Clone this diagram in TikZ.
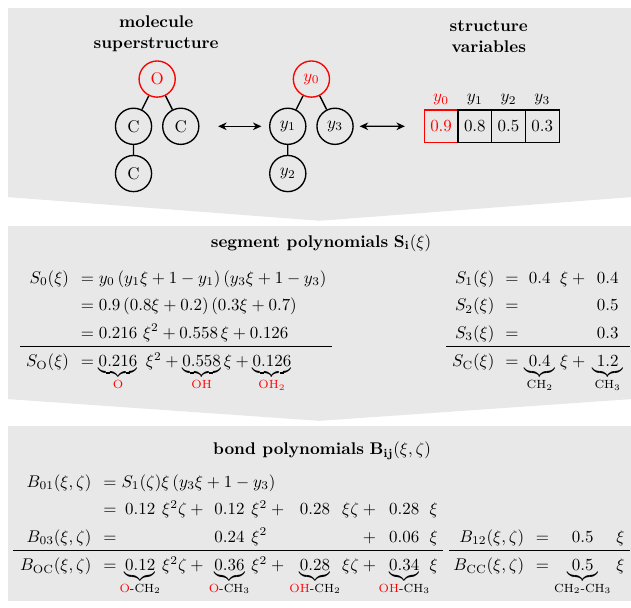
\documentclass[tikz,border=0pt]{standalone}
\usepackage{amsmath}
\usepackage{amssymb}
\usepackage{mathtools}
\usetikzlibrary{
  arrows.meta,
  positioning,  % Function "of" (e.g. [below left=of o])
}
\newcommand{\rd}[1]{\textcolor{red}{#1}}
\newcommand{\bnd}[2]{\mathclap{\mathrm{#1}\text{-}\mathrm{#2}}}
\renewcommand{\arraystretch}{1.35}
\setlength{\arraycolsep}{3.5pt}
\setlength{\arrayrulewidth}{0.6pt}
\def\myvdist{0.98cm}
\def\myhdist{0.49cm}
\def\mycell{0.70cm}
\colorlet{panelgray}{black!9}
\tikzset{
  >={Stealth[length=5pt,width=4.5pt]},
  panel/.style={
    fill=panelgray
  },
  title/.style={
    font=\bfseries,
    align=center
  },
  my atom/.style={
    draw,
    thick,
    circle,
    minimum size=0.75cm,
    inner sep=0mm
  },
  my root/.style={
    my atom,
    draw=red,
    text=red
  },
  my cell/.style={
    draw,
    thick,
    rectangle,
    minimum width=\mycell,
    minimum height=0.68cm,
    inner sep=0mm
  },
  eqs/.style={
    inner sep=0mm
  },
  tree/.style={
    on grid,
    node distance=\myvdist and \myhdist
  },
  bond/.style={
    thick
  },
  link/.style={
    thick,
    <->
  }
}

\begin{document}
\begin{tikzpicture}
\useasboundingbox (0,0) rectangle (13.09,-12.61);
% panels
\fill[panel] (0.17,-0.17) -- (13.09,-0.17) -- (13.09,-4.09) -- (6.63,-4.58) -- (0.17,-4.09) -- cycle;
\fill[panel] (0.17,-4.69) -- (13.09,-4.69) -- (13.09,-8.28) -- (6.63,-8.73) -- (0.17,-8.28) -- cycle;
\fill[panel] (0.17,-8.84) rectangle (13.09,-12.47);

% superstructure and its variables
\node[title] (tmol) at (3.24,-0.70) {molecule\\superstructure};
\node[title] (tvar) at (10.14,-0.76) {structure\\variables};
\begin{scope}[tree]
\node[my root] (o) at (3.26,-1.64) {O};
\node[my atom] (c1) [below left=of o] {C};
\node[my atom] (c2) [below right=of o] {C};
\node[my atom] (c3) [below=of c1] {C};
\node[my root] (y0) at (6.46,-1.64) {$y_0$};
\node[my atom] (y1) [below left=of y0] {$y_1$};
\node[my atom] (y3) [below right=of y0] {$y_3$};
\node[my atom] (y2) [below=of y1] {$y_2$};
\end{scope}
\draw[bond] (o) -- (c1) (o) -- (c2) (c1) -- (c3);
\draw[bond] (y0) -- (y1) (y0) -- (y3) (y1) -- (y2);

\begin{scope}[on grid]
\node[my cell,draw=red,text=red] (v0) at (9.15,-2.62) {$0.9$};
\node[my cell] (v1) [right=\mycell of v0] {$0.8$};
\node[my cell] (v2) [right=\mycell of v1] {$0.5$};
\node[my cell] (v3) [right=\mycell of v2] {$0.3$};
\end{scope}
\node[text=red] (l0) [above=-1pt of v0] {$y_0$};
\node (l1) [above=-1pt of v1] {$y_1$};
\node (l2) [above=-1pt of v2] {$y_2$};
\node (l3) [above=-1pt of v3] {$y_3$};

\draw[link,shorten <=11pt,shorten >=4.5pt] (c2) -- (y1);
\draw[link,shorten <=3.5pt,shorten >=11pt] (y3) -- (v0);

% segment polynomials
\node (tseg) at (6.66,-5.04) {\textbf{segment polynomials} $\mathbf{S_i}(\xi)$};
\node[eqs,anchor=north west] (segl) at (0.41,-5.47) {$\begin{array}{rl}
S_0(\xi) & = y_0\,(y_1\xi+1-y_1)\,(y_3\xi+1-y_3)\\
 & = 0.9\,(0.8\xi+0.2)\,(0.3\xi+0.7)\\
 & = 0.216\ \xi^2+0.558\,\xi+0.126\\ \hline
S_\mathrm{O}(\xi) & = \underbrace{0.216}_{\rd{\mathrm{O}}}\ \xi^2+\underbrace{0.558}_{\rd{\mathrm{OH}}}\xi+\underbrace{0.126}_{\rd{\mathrm{OH_2}}}
\end{array}$};
\node[eqs,anchor=north east] (segr) at (13.07,-5.47) {$\begin{array}{@{\hspace{3.5pt}}r@{\hspace{6.5pt}}c@{\hspace{3.5pt}}c@{\hspace{3pt}}c@{\hspace{2pt}}c@{\hspace{4pt}}}
S_1(\xi) & = & 0.4 & \xi+{} & 0.4\\
S_2(\xi) & = & & & 0.5\\
S_3(\xi) & = & & & 0.3\\ \hline
S_\mathrm{C}(\xi) & = & \underbrace{0.4}_{\mathrm{CH_2}} & \xi+{} & \underbrace{1.2}_{\mathrm{CH_3}}
\end{array}$};

% bond polynomials
\node (tbond) at (6.68,-9.35) {\textbf{bond polynomials} $\mathbf{B_{ij}}(\xi,\zeta)$};
\node[eqs,anchor=north west] (bondl) at (0.27,-9.70) {$\begin{array}{@{\hspace{4pt}}r@{\hspace{7pt}}c@{\hspace{5pt}}c@{\hspace{4pt}}l@{\hspace{4pt}}c@{\hspace{4pt}}l@{\hspace{7pt}}c@{\hspace{7pt}}l@{\hspace{5.5pt}}c@{\hspace{6pt}}l@{\hspace{3pt}}}
B_{01}(\xi,\zeta) & = & \multicolumn{8}{@{\hspace{-2pt}}l@{\hspace{3pt}}}{S_1(\zeta)\xi\,(y_3\xi+1-y_3)}\\
 & = & 0.12 & \xi^2\zeta+{} & 0.12 & \xi^2+{} & 0.28 & \xi\zeta+{} & 0.28 & \xi\\
B_{03}(\xi,\zeta) & = & & & 0.24 & \xi^2 & & \phantom{\xi\zeta}+{} & 0.06 & \xi\\ \hline
B_\mathrm{OC}(\xi,\zeta) & = & \underbrace{0.12}_{\bnd{\rd{O}}{CH_2}} & \xi^2\zeta+{}
 & \underbrace{0.36}_{\bnd{\rd{O}}{CH_3}} & \xi^2+{}
 & \underbrace{0.28}_{\bnd{\rd{OH}}{CH_2}} & \xi\zeta+{}
 & \underbrace{0.34}_{\bnd{\rd{OH}}{CH_3}} & \xi
\end{array}$};
\node[eqs,anchor=north east] (bondr) at (13.07,-9.70) {\setlength{\arraycolsep}{1.5pt}$\begin{array}{@{\hspace{2.5pt}}r@{\hspace{7pt}}ccl@{\hspace{3pt}}}
 & & & \\
 & & & \\
B_{12}(\xi,\zeta) & = & 0.5 & \xi\\ \hline
B_\mathrm{CC}(\xi,\zeta) & = & \underbrace{0.5}_{\mathrm{CH_2\text{-}CH_3}} & \xi
\end{array}$};
\end{tikzpicture}
\end{document}
